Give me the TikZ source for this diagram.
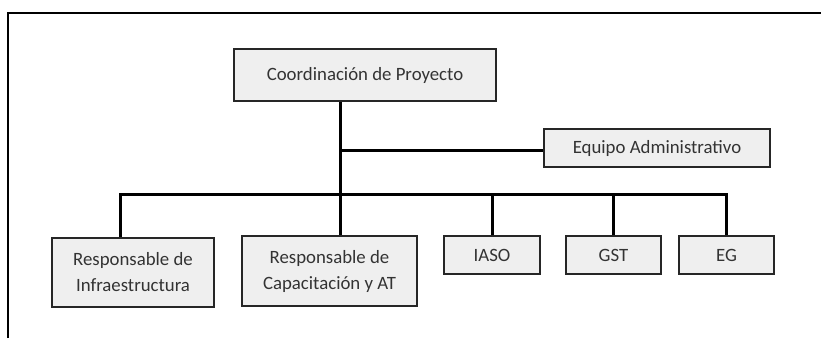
\documentclass[tikz,border=0pt]{standalone}
\usepackage{fontspec}
\setmainfont{Carlito}
\usepackage{xcolor}
\usepackage{tikz}
\definecolor{boxfill}{HTML}{EFEFEF}
\definecolor{boxtext}{HTML}{333333}

\begin{document}
\begin{tikzpicture}[x=1pt,y=-1pt,
    unit/.style={draw=black!85, line width=2.4pt, fill=boxfill, text=boxtext,
        inner sep=0pt, align=center, font=\fontsize{18.8}{26}\selectfont},
    link/.style={line width=3pt}]
        \useasboundingbox (0,0) rectangle (821,338);
        \draw[line width=2.2pt] (8,338) -- (8,13) -- (821,13);
        \node[unit, minimum width=262, minimum height=52] (coord) at (365,75) {Coordinación de Proyecto};
        \node[unit, minimum width=226, minimum height=38] (admin) at (657,148) {Equipo Administrativo};
        \node[unit, minimum width=162, minimum height=69] (infra) at (133,272.5) {Responsable de\\Infraestructura};
        \node[unit, minimum width=175, minimum height=70] (capac) at (329.5,271) {Responsable de\\Capacitación y AT};
        \node[unit, minimum width=96, minimum height=38] (iaso) at (492,255) {IASO};
        \node[unit, minimum width=95, minimum height=38] (gst) at (613.5,255) {GST};
        \node[unit, minimum width=95, minimum height=38] (eg) at (726.5,255) {EG};
        \coordinate (split) at (340,150);
        \coordinate (bus) at (340,194);
        \coordinate (left) at (120,194);
        % trunk and staff branch
        \draw[link] (coord.south -| split) -- (capac.north -| split);
        \draw[link] (split) -- (split -| admin.west);
        % bus to the units below
        \draw[link] (infra.north -| left) -- (left) -- (left -| eg.north) -- (eg.north);
        \draw[link] (iaso.north) -- (iaso.north |- bus);
        \draw[link] (gst.north) -- (gst.north |- bus);
    \end{tikzpicture}
\end{document}
